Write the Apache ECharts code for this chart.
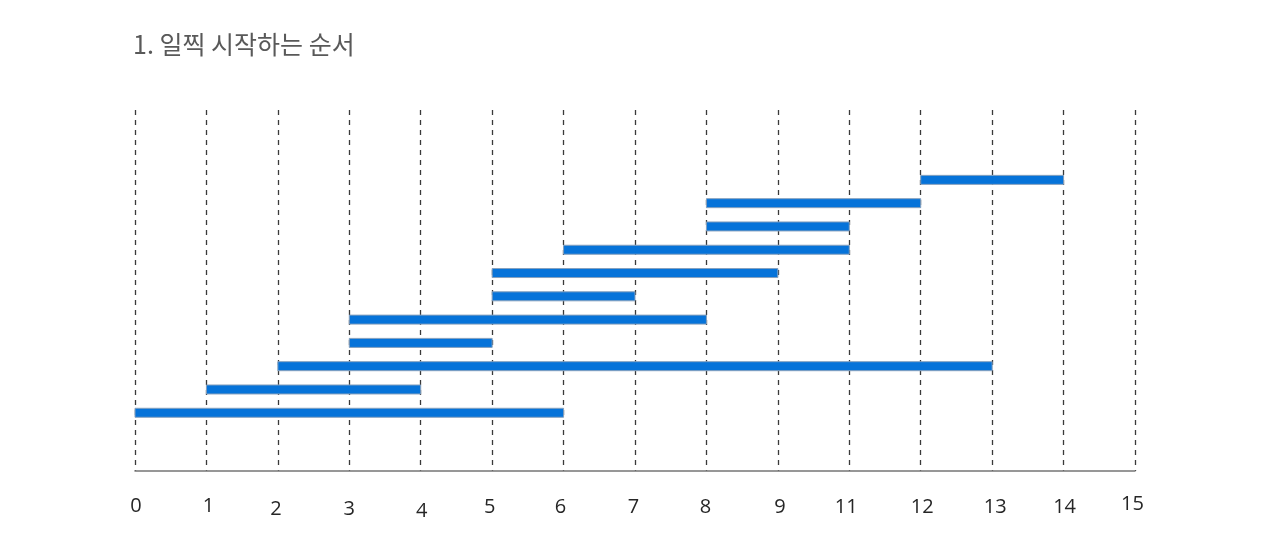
<!DOCTYPE html>
<html>
<head>
<meta charset="utf-8">
<script src="https://cdn.jsdelivr.net/npm/echarts@6/dist/echarts.min.js"></script>
<style>html,body{margin:0;padding:0;background:#fff;}#c{width:1280px;height:552px;}</style>
</head>
<body>
<div id="c"></div>
<script>
// Tick labels as printed under each dashed line (note: "10" is absent in the original)
const tickLabels = ['0','1','2','3','4','5','6','7','8','9','11','12','13','14','15'];
// Activities in "early start" order (start, finish)
const starts = [0, 1, 2, 3, 3, 5, 5, 6, 8, 8, 12];
const ends   = [6, 4, 13, 5, 8, 7, 9, 11, 11, 12, 14];
const titleText = '1. 일찍 시작하는 순서';

// small hand-placed label jitter from the original (style only)
const labelDx = [1, 2, -2, 0, 1, -2.5, -3, -1.5, -1, 2, -3, 1.5, 3, 1, -2.5];
const labelDy = [-0.5, -0.5, 2.5, 2, 4, 0.5, 0, 0, 0, 0, 0, 0, 0, 0, -3];

const pos = v => tickLabels.indexOf(String(v));
const data = starts.map((s, i) => [pos(s), pos(ends[i]), i + 1]);

const rich = {};
tickLabels.forEach((t, i) => {
  const dx = labelDx[i], dy = labelDy[i] + 4;
  rich['s' + i] = {
    fontSize: 20, fontFamily: 'Open Sans', color: '#262626',
    padding: [dy, dx < 0 ? -2 * dx : 0, 0, dx > 0 ? 2 * dx : 0]
  };
});

const chart = echarts.init(document.getElementById('c'));
chart.setOption({
  animation: false,
  backgroundColor: '#ffffff',
  title: {
    text: titleText, left: 128, top: 27,
    textStyle: { fontFamily: 'Noto Sans CJK KR', fontSize: 25, fontWeight: 'normal', color: '#595959' }
  },
  grid: { left: 135, right: 145, top: 110, bottom: 81 },
  xAxis: {
    type: 'value', min: 0, max: tickLabels.length - 1, interval: 1,
    axisLine: { show: true, onZero: false, lineStyle: { color: '#767676', width: 1.5 } },
    axisTick: { show: false },
    splitLine: { show: true, lineStyle: { color: '#3a3a3a', width: 1.3, type: [5, 5] } },
    axisLabel: {
      margin: 22,
      formatter: v => '{s' + v + '|' + tickLabels[v] + '}',
      rich: rich
    }
  },
  yAxis: {
    type: 'value', min: -1.5, max: 14,
    show: false, splitLine: { show: false }
  },
  series: [{
    type: 'custom',
    data: data,
    encode: { x: [0, 1], y: 2 },
    renderItem: (params, api) => {
      const a = api.coord([api.value(0), api.value(2)]);
      const b = api.coord([api.value(1), api.value(2)]);
      return {
        type: 'rect',
        shape: { x: a[0], y: a[1] - 4.5, width: b[0] - a[0], height: 9 },
        style: { fill: '#0673d9', stroke: '#86a0bd', lineWidth: 1 }
      };
    }
  }]
});
</script>
</body>
</html>
